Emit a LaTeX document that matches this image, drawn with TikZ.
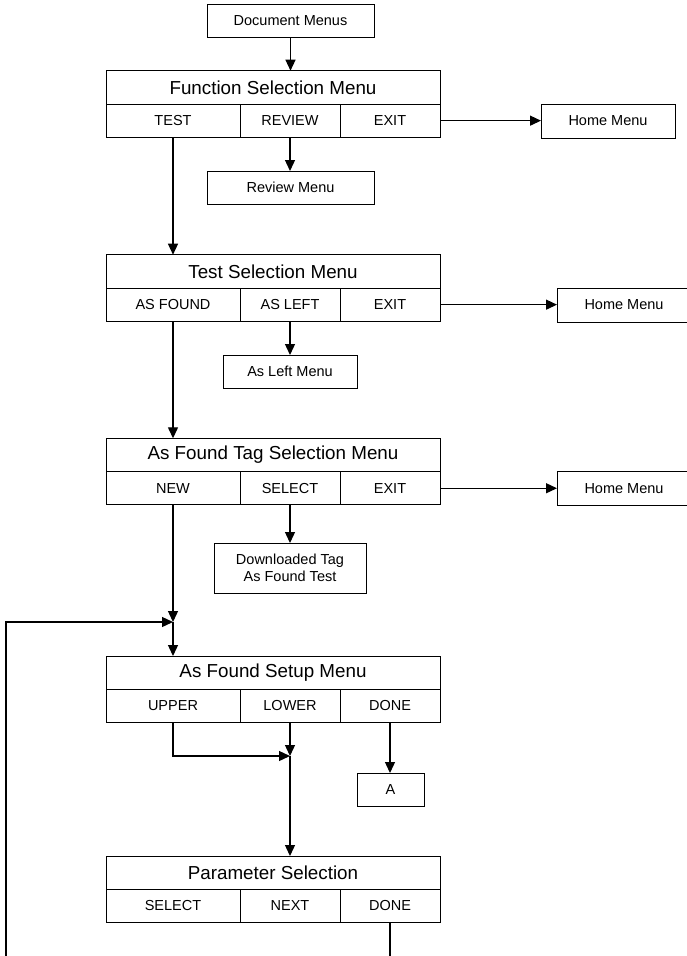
\documentclass[tikz,border=0pt]{standalone}
\usepackage{fontspec}
\setmainfont{Liberation Sans}
\usetikzlibrary{arrows.meta}
\newcommand\menublock[6]{%
  \node[mtitle, anchor=north west] (#1t) at (106,#2) {#3};
  \node[mcell, minimum width=134pt, anchor=north west] (#1a) at (#1t.south west) {#4};
  \node[mcell, minimum width=100pt, anchor=north west] (#1b) at (#1a.north east) {#5};
  \node[mcell, minimum width=100pt, anchor=north west] (#1c) at (#1b.north east) {#6};
}
\tikzset{
  mtitle/.style={draw, line width=1pt, inner sep=0pt, outer sep=0pt, minimum width=334pt, minimum height=33.3pt, font=\fontsize{18.8}{22}\selectfont},
  mcell/.style={draw, line width=1pt, inner sep=0pt, outer sep=0pt, minimum height=33.3pt, font=\fontsize{14.5}{17}\selectfont},
  sbox/.style={draw, line width=1pt, inner sep=0pt, outer sep=0pt, minimum height=33pt, align=center, font=\fontsize{14.5}{17}\selectfont},
  conn/.style={line width=1.3pt, -{Triangle[length=11pt,width=10pt]}},
  plain/.style={line width=1.3pt}
}
\begin{document}
\begin{tikzpicture}[x=1pt,y=-1pt]
\useasboundingbox (0,0) rectangle (686,956);
% boxes
\node[sbox, minimum width=167pt, anchor=north west] (doc) at (207,4) {Document Menus};
\menublock{fs}{70.7}{Function Selection Menu}{TEST}{REVIEW}{EXIT}
\node[sbox, minimum width=167pt, anchor=north west] (review) at (207,171) {Review Menu};
\node[sbox, minimum width=134pt, minimum height=34pt, anchor=north west] (home1) at (541,104) {Home Menu};
\menublock{ts}{254.7}{Test Selection Menu}{AS FOUND}{AS LEFT}{EXIT}
\node[sbox, minimum width=134pt, anchor=north west] (asleft) at (223,355) {As Left Menu};
\node[sbox, minimum width=134pt, minimum height=34pt, anchor=north west] (home2) at (557,288) {Home Menu};
\menublock{at}{438.3}{As Found Tag Selection Menu}{NEW}{SELECT}{EXIT}
\node[sbox, minimum width=134pt, minimum height=34pt, anchor=north west] (home3) at (557,471.7) {Home Menu};
\node[sbox, minimum width=152pt, minimum height=50pt, anchor=north west] (dl) at (214,543) {Downloaded Tag\\As Found Test};
\menublock{af}{656}{As Found Setup Menu}{UPPER}{LOWER}{DONE}
\node[sbox, minimum width=67pt, anchor=north west] (aa) at (357,773) {A};
\menublock{ps}{856}{Parameter Selection}{SELECT}{NEXT}{DONE}
% coordinates
\coordinate (join1) at (173,622);
\coordinate (join2) at (290,756);
\coordinate (loopend) at (6,957);
\coordinate (psend) at (391,957);
% connectors
\draw[conn] (doc.south) -- (doc.south |- fst.north);
\draw[conn] (fsa.south) -- (fsa.south |- tst.north);
\draw[conn] (fsb.south) -- (fsb.south |- review.north);
\draw[conn] (fsc.east) -- (fsc.east -| home1.west);
\draw[conn] (tsa.south) -- (tsa.south |- att.north);
\draw[conn] (tsb.south) -- (tsb.south |- asleft.north);
\draw[conn] (tsc.east) -- (tsc.east -| home2.west);
\draw[conn] (ata.south) -- (join1);
\draw[conn] (join1) -- (join1 |- aft.north);
\draw[conn] (loopend) -- (loopend |- join1) -- (join1);
\draw[conn] (atb.south) -- (atb.south |- dl.north);
\draw[conn] (atc.east) -- (atc.east -| home3.west);
\draw[conn] (afa.south) -- (afa.south |- join2) -- (join2);
\draw[conn] (afb.south) -- (join2);
\draw[conn] (join2) -- (join2 |- pst.north);
\draw[conn] (afc.south) -- (afc.south |- aa.north);
\draw[plain] (psc.south) -- (psc.south |- psend);
\end{tikzpicture}
\end{document}
